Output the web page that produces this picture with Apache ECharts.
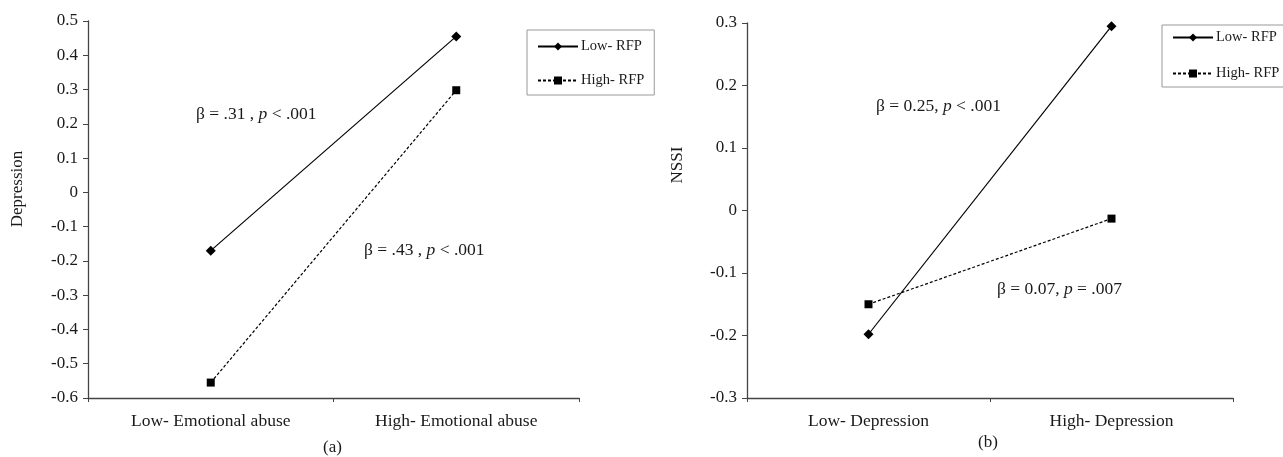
<!DOCTYPE html>
<html>
<head>
<meta charset="utf-8">
<script src="https://cdn.jsdelivr.net/npm/echarts@6/dist/echarts.min.js"></script>
<style>
  html, body { margin: 0; padding: 0; background: #fff; }
  #main { width: 1283px; height: 457px; }
</style>
</head>
<body>
<div id="main"></div>
<script>
// panel (a)
var catsA = ['Low- Emotional abuse', 'High- Emotional abuse'];
var lowA = [-0.17, 0.455];
var highA = [-0.555, 0.298];
// panel (b)
var catsB = ['Low- Depression', 'High- Depression'];
var lowB = [-0.198, 0.295];
var highB = [-0.15, -0.013];

var seriesNames = ['Low- RFP', 'High- RFP'];
var font = 'Liberation Serif';
var ink = '#1a1a1a';

function fmt(v) {
  var r = Math.round(v * 10) / 10;
  return r === 0 ? '0' : String(r);
}

function xAx(idx, cats) {
  return {
    type: 'category', gridIndex: idx, data: cats,
    axisLine: { onZero: false, lineStyle: { color: '#444', width: 1.3 } },
    axisTick: { show: true, length: 4, lineStyle: { color: '#444' } },
    axisLabel: { color: ink, fontFamily: font, fontSize: 17.5, margin: 14 }
  };
}
function yAx(idx, min, max) {
  return {
    type: 'value', gridIndex: idx, min: min, max: max, interval: 0.1,
    axisLine: { show: true, lineStyle: { color: '#444', width: 1.3 } },
    axisTick: { show: true, length: 5, lineStyle: { color: '#444' } },
    splitLine: { show: false },
    axisLabel: { color: ink, fontFamily: font, fontSize: 17, margin: 10, formatter: fmt }
  };
}
function line(name, idx, data, dashed, sym) {
  return {
    name: name, type: 'line', xAxisIndex: idx, yAxisIndex: idx, data: data,
    symbol: sym, symbolSize: sym === 'diamond' ? 10 : 8,
    lineStyle: { color: '#000', width: 1.2, type: dashed ? [3, 2] : 'solid' },
    itemStyle: { color: '#000' },
    emphasis: { disabled: true },
    animation: false
  };
}
function legendBox(left, top, gap, pad) {
  return {
    data: seriesNames, orient: 'vertical', left: left, top: top,
    itemWidth: 40, itemHeight: 10, itemGap: gap,
    padding: pad,
    borderColor: '#999', borderWidth: 1,
    textStyle: { color: ink, fontFamily: font, fontSize: 14.5, padding: [0, 0, 0, -2] }
  };
}
function note(x, y, a, b) {
  return {
    type: 'text', left: x, top: y,
    style: {
      text: '{n|' + a + '}{i|p}{n|' + b + '}',
      rich: {
        n: { fontFamily: font, fontSize: 17.5, fill: ink },
        i: { fontFamily: font, fontSize: 17.5, fontStyle: 'italic', fill: ink }
      }
    }
  };
}
function vname(txt, x, y) {
  return {
    type: 'text', x: x, y: y, rotation: Math.PI / 2,
    style: { text: txt, fontFamily: font, fontSize: 17, fill: ink, align: 'center', verticalAlign: 'middle' }
  };
}

var chart = echarts.init(document.getElementById('main'));
chart.setOption({
  backgroundColor: '#fff',
  animation: false,
  grid: [
    { left: 88, top: 21, width: 491, height: 377 },
    { left: 747, top: 23, width: 486, height: 375 }
  ],
  xAxis: [xAx(0, catsA), xAx(1, catsB)],
  yAxis: [yAx(0, -0.6, 0.5), yAx(1, -0.3, 0.3)],
  legend: [legendBox(527, 30, 19, [9, 10, 7, 10]), legendBox(1162, 25, 21, [5, 10, 6, 10])],
  series: [
    line(seriesNames[0], 0, lowA, false, 'diamond'),
    line(seriesNames[1], 0, highA, true, 'rect'),
    line(seriesNames[0], 1, lowB, false, 'diamond'),
    line(seriesNames[1], 1, highB, true, 'rect')
  ],
  graphic: [
    vname('Depression', 18, 189),
    vname('NSSI', 678, 165),
    note(196, 105, '\u03b2 = .31 , ', ' < .001'),
    note(364, 241, '\u03b2 = .43 , ', ' < .001'),
    note(876, 97, '\u03b2 = 0.25, ', ' < .001'),
    note(997, 280, '\u03b2 = 0.07, ', ' = .007'),
    { type: 'text', left: 323, top: 439, style: { text: '(a)', fontFamily: font, fontSize: 17, fill: ink } },
    { type: 'text', left: 978, top: 434, style: { text: '(b)', fontFamily: font, fontSize: 17, fill: ink } }
  ]
});
</script>
</body>
</html>
